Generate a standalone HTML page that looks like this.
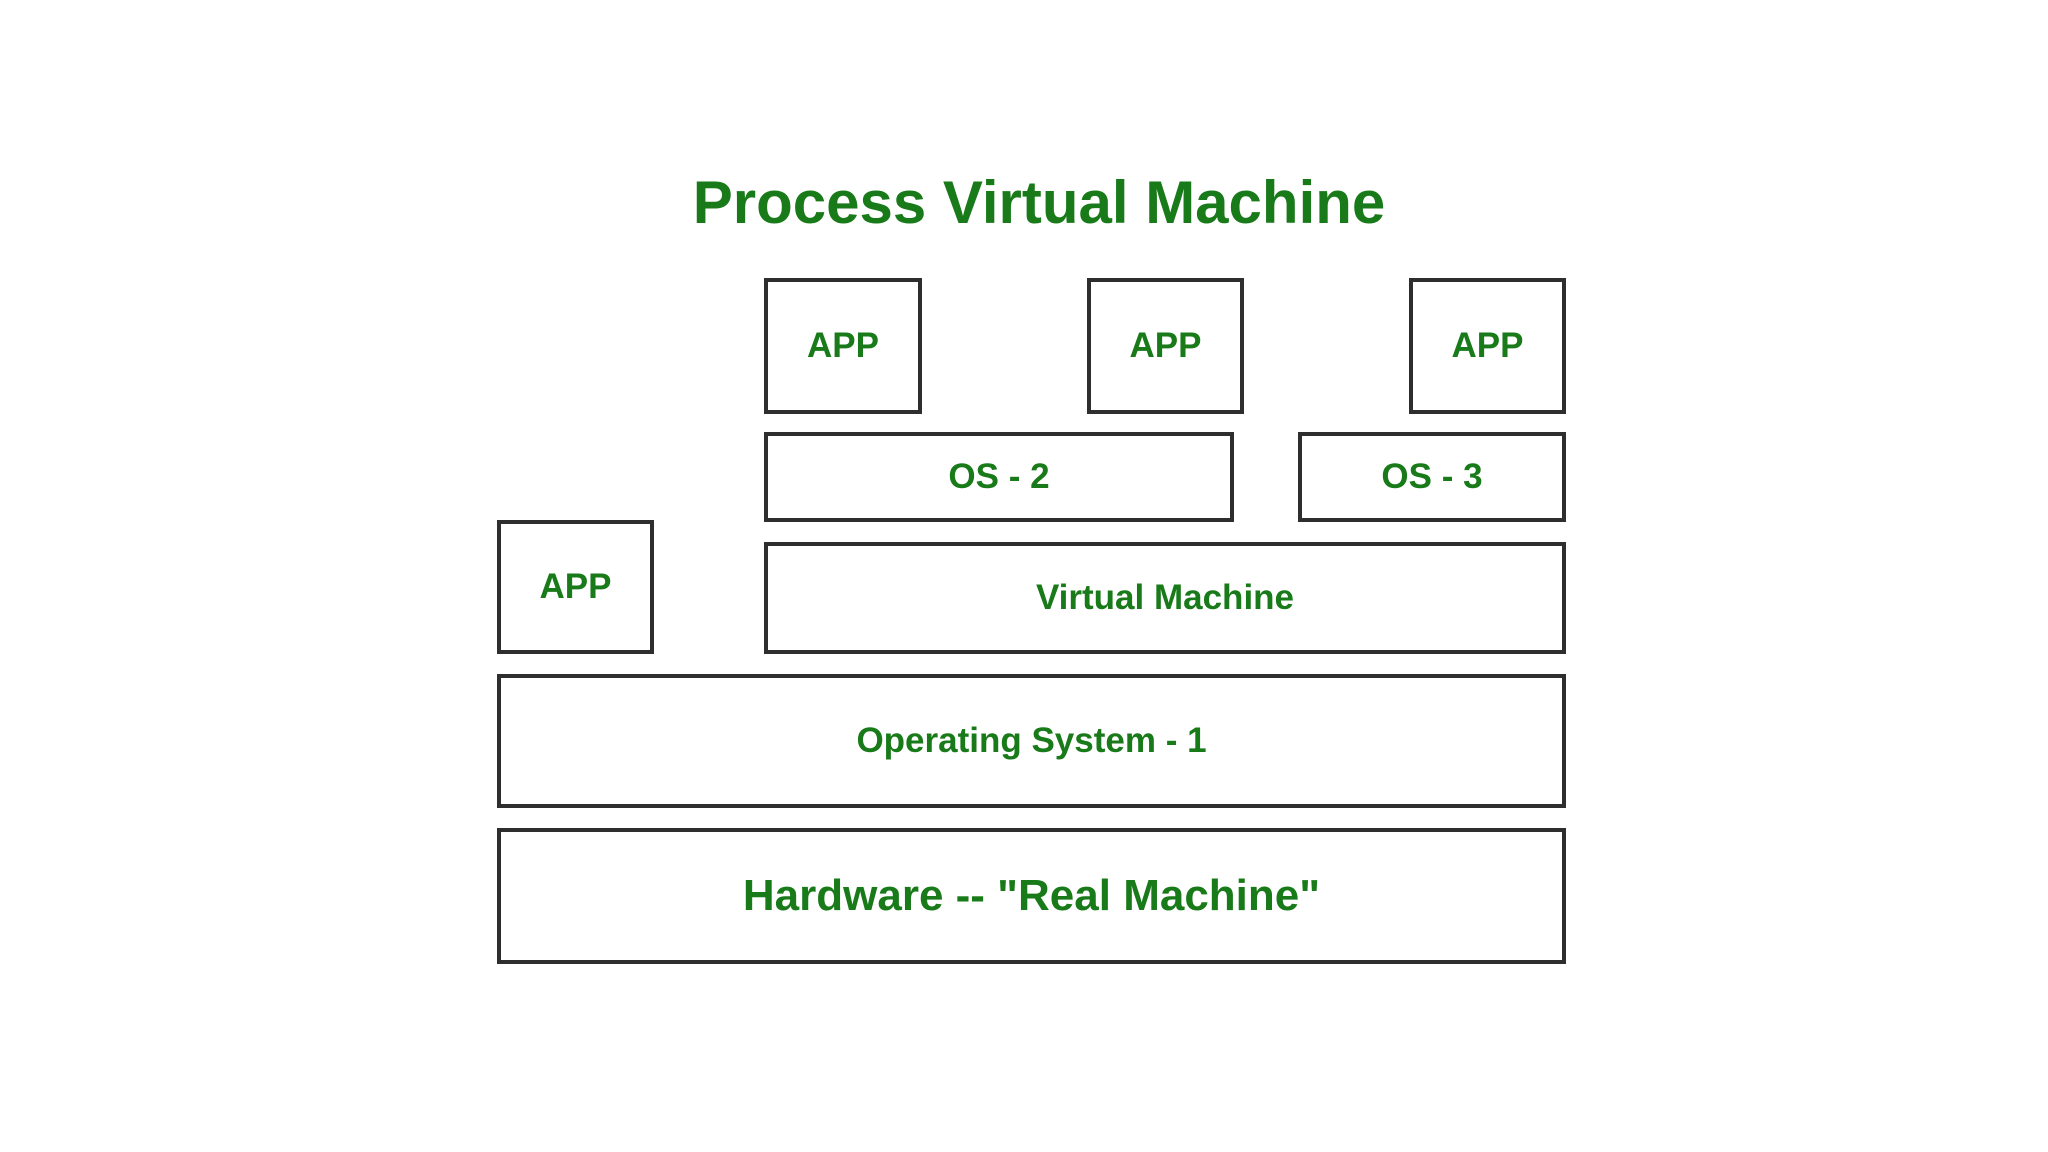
<!DOCTYPE html>
<html><head><meta charset="utf-8"><style>
body{margin:0;width:2048px;height:1152px;background:#fff;position:relative;overflow:hidden;font-family:"Liberation Sans",Arial,sans-serif;}
.b{position:absolute;box-sizing:border-box;border:4px solid #2e2e2e;background:#fff;display:flex;align-items:center;justify-content:center;color:#197a19;font-weight:bold;font-size:35px;}
.t{position:absolute;left:0;width:2078px;top:168px;text-align:center;color:#197a19;font-weight:bold;font-size:60px;}
</style></head><body>
<div class="t">Process Virtual Machine</div>
<div class="b" style="left:764px;top:278px;width:158px;height:136px">APP</div>
<div class="b" style="left:1087px;top:278px;width:157px;height:136px">APP</div>
<div class="b" style="left:1409px;top:278px;width:157px;height:136px">APP</div>
<div class="b" style="left:764px;top:432px;width:470px;height:90px">OS - 2</div>
<div class="b" style="left:1298px;top:432px;width:268px;height:90px">OS - 3</div>
<div class="b" style="left:497px;top:520px;width:157px;height:134px">APP</div>
<div class="b" style="left:764px;top:542px;width:802px;height:112px">Virtual Machine</div>
<div class="b" style="left:497px;top:674px;width:1069px;height:134px">Operating System - 1</div>
<div class="b" style="left:497px;top:828px;width:1069px;height:136px;font-size:44px">Hardware -- "Real Machine"</div>
</body></html>
